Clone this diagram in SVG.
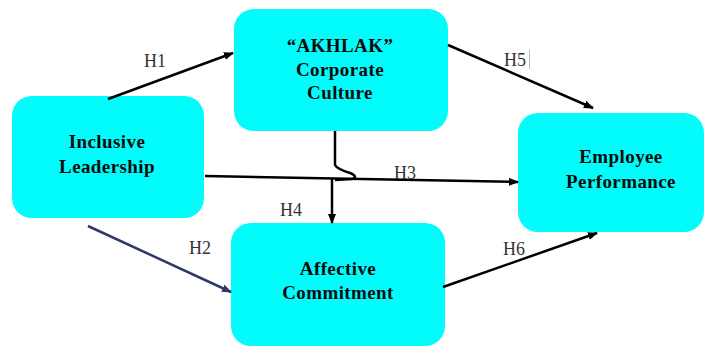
<svg xmlns="http://www.w3.org/2000/svg" width="706" height="348" viewBox="0 0 706 348">
<style>
.box{fill:#02FBFB;}
.t{font-family:"Liberation Serif","Times New Roman",serif;font-weight:bold;font-size:19px;fill:#0a0a0a;text-anchor:middle;letter-spacing:0.4px;}
.h{font-family:"Liberation Serif","Times New Roman",serif;font-size:18px;fill:#333;}
.c{fill:none;stroke:#000;stroke-width:2.5;}
</style>
<defs>
<marker id="a" markerWidth="10" markerHeight="8" refX="9" refY="4" orient="auto" markerUnits="userSpaceOnUse">
<path d="M0,0 L10,4 L0,8 Z" fill="#000"/>
</marker>
<marker id="an" markerWidth="10" markerHeight="8" refX="9" refY="4" orient="auto" markerUnits="userSpaceOnUse">
<path d="M0,0 L10,4 L0,8 Z" fill="#2E3A66"/>
</marker>
</defs>
<rect width="706" height="348" fill="#fff"/>
<g id="inclusive-leadership">
<rect class="box" x="12" y="96" width="192" height="122" rx="20"/>
<text class="t" x="107" y="148">Inclusive</text>
<text class="t" x="107" y="173">Leadership</text>
</g>
<g id="akhlak">
<rect class="box" x="234" y="9" width="214" height="122" rx="20"/>
<text class="t" x="340" y="52">“AKHLAK”</text>
<text class="t" x="340" y="76">Corporate</text>
<text class="t" x="340" y="99">Culture</text>
</g>
<g id="employee-performance">
<rect class="box" x="518" y="113" width="186" height="119" rx="20"/>
<text class="t" x="621" y="163">Employee</text>
<text class="t" x="621" y="188">Performance</text>
</g>
<g id="affective-commitment">
<rect class="box" x="231" y="223" width="214" height="123" rx="20"/>
<text class="t" x="338" y="275">Affective</text>
<text class="t" x="338" y="299">Commitment</text>
</g>
<g id="connectors">
<line class="c" x1="108" y1="99" x2="233" y2="53" marker-end="url(#a)"/>
<line class="c" x1="88" y1="226" x2="231" y2="292" style="stroke:#2E3A66" marker-end="url(#an)"/>
<line class="c" x1="205" y1="176" x2="518" y2="182" marker-end="url(#a)"/>
<path class="c" d="M335,131 L335,165 Q337,169 350,173 Q359,177 352,179 L335,180"/>
<line class="c" x1="332" y1="179" x2="332" y2="223" marker-end="url(#a)"/>
<line class="c" x1="448" y1="45" x2="593" y2="108" marker-end="url(#a)"/>
<line class="c" x1="443" y1="287" x2="597" y2="233" marker-end="url(#a)"/>
</g>
<g id="labels">
<text class="h" x="144" y="67">H1</text>
<text class="h" x="189" y="254">H2</text>
<text class="h" x="394" y="179">H3</text>
<text class="h" x="280" y="216">H4</text>
<text class="h" x="504" y="66">H5</text>
<line x1="529.5" y1="50" x2="529.5" y2="69" stroke="#bbb" stroke-width="1"/>
<text class="h" x="503" y="255">H6</text>
</g>
</svg>
